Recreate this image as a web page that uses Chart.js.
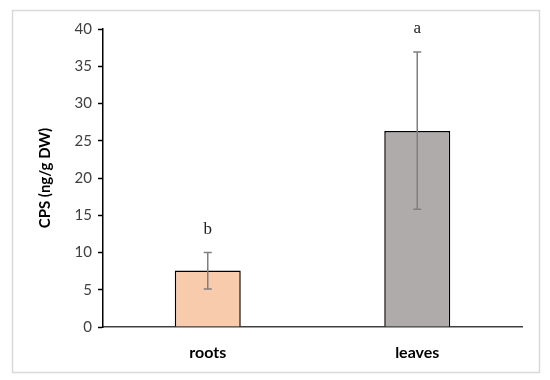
<!DOCTYPE html>
<html>
<head>
<meta charset="utf-8">
<script src="https://cdn.jsdelivr.net/npm/chart.js@4/dist/chart.umd.min.js"></script>
<style>
  html, body { margin: 0; padding: 0; background: #fff; }
  #wrap { width: 550px; height: 380px; }
</style>
</head>
<body>
<div id="wrap"><canvas id="chart" width="550" height="380"></canvas></div>
<script>
// data
var tissues = ['roots', 'leaves'];
var cpsMean = [7.6, 26.3];
var cpsLow = [5.1, 15.8];
var cpsHigh = [10.0, 36.9];
var letters = ['b', 'a'];
var yTicks = [0, 5, 10, 15, 20, 25, 30, 35, 40];

// error bars + significance letters
var errorBars = {
    id: 'errorBars',
    afterDatasetsDraw: function (chart) {
        var ctx = chart.ctx;
        var x = chart.scales.x, y = chart.scales.y;
        ctx.save();
        ctx.strokeStyle = '#7f7f7f';
        ctx.lineWidth = 1.5;
        tissues.forEach(function (t, i) {
            var px = x.getPixelForValue(i);
            var top = y.getPixelForValue(cpsHigh[i]);
            var bot = y.getPixelForValue(cpsLow[i]);
            ctx.beginPath();
            ctx.moveTo(px, top); ctx.lineTo(px, bot);
            ctx.moveTo(px - 4, top); ctx.lineTo(px + 4, top);
            ctx.moveTo(px - 4, bot); ctx.lineTo(px + 4, bot);
            ctx.stroke();
            ctx.fillStyle = '#222';
            ctx.font = '17px "Liberation Serif"';
            ctx.textAlign = 'center';
            ctx.textBaseline = 'alphabetic';
            ctx.fillText(letters[i], px, top - 19);
        });
        ctx.restore();
    }
};

// light frame around the whole figure
var frame = {
    id: 'frame',
    beforeDraw: function (chart) {
        var ctx = chart.ctx;
        ctx.save();
        ctx.fillStyle = '#fff';
        ctx.fillRect(0, 0, chart.width, chart.height);
        ctx.strokeStyle = '#d9d9d9';
        ctx.lineWidth = 1.5;
        ctx.strokeRect(12.5, 10.5, 527, 362);
        ctx.restore();
    }
};

var ctx = document.getElementById('chart').getContext('2d');
var chart = new Chart(ctx, {
    type: 'bar',
    data: {
        labels: tissues,
        datasets: [{
            data: cpsMean,
            backgroundColor: ['#f8cbad', '#afabab'],
            borderColor: '#000',
            borderWidth: 1.5,
            barPercentage: 0.63,
            categoryPercentage: 0.5
        }]
    },
    options: {
        responsive: false,
        animation: false,
        layout: { padding: { left: 36, right: 28, top: 29, bottom: 0 } },
        plugins: {
            legend: { display: false },
            tooltip: { enabled: false }
        },
        scales: {
            x: {
                grid: { display: false, drawTicks: false },
                border: { color: '#404040', width: 1.5 },
                ticks: {
                    color: '#000',
                    padding: 16,
                    font: { family: 'Lato', size: 16, weight: 'bold' }
                },
                afterFit: function (s) { s.height = 53; }
            },
            y: {
                min: 0,
                max: 40,
                afterBuildTicks: function (s) {
                    s.ticks = yTicks.map(function (v) { return { value: v }; });
                },
                grid: { drawOnChartArea: false, tickLength: 5, tickColor: '#000', tickWidth: 1.5 },
                border: { color: '#000', width: 1.5 },
                ticks: {
                    color: '#404040',
                    padding: 6,
                    font: { family: 'Lato', size: 15 }
                },
                title: {
                    display: true,
                    text: 'CPS (ng/g DW)',
                    color: '#000',
                    font: { family: 'Lato', size: 15, weight: 'bold' },
                    padding: { top: 0, bottom: 0 }
                },
                afterFit: function (s) { s.width = 67; }
            }
        }
    },
    plugins: [frame, errorBars]
});
</script>
</body>
</html>
